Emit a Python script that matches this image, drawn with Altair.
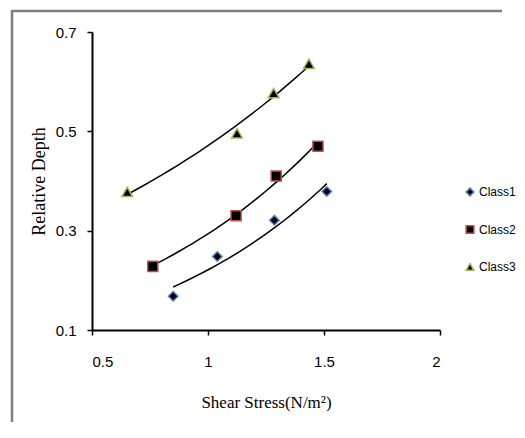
import altair as alt
import pandas as pd

classes = ["Class1", "Class2", "Class3"]
class1_x = [0.85, 1.04, 1.286, 1.512]
class1_y = [0.168, 0.248, 0.321, 0.379]
class2_x = [0.762, 1.121, 1.294, 1.474]
class2_y = [0.228, 0.33, 0.41, 0.47]
class3_x = [0.652, 1.125, 1.283, 1.435]
class3_y = [0.378, 0.496, 0.577, 0.636]
x_ticks = [0.5, 1, 1.5, 2]
y_ticks = [0.1, 0.3, 0.5, 0.7]
outline_colors = ["#4F81BD", "#C0504D", "#9BBB59"]
shapes = ["diamond", "square", "triangle-up"]
sizes = [90, 115, 130]

rows = []
for c, xs, ys in zip(classes, [class1_x, class2_x, class3_x], [class1_y, class2_y, class3_y]):
    for a, b in zip(xs, ys):
        rows.append({"cls": c, "cls_size": c, "x": a, "y": b})
df = pd.DataFrame(rows)
legend_df = pd.DataFrame({"cls": classes})

sans = "Liberation Sans, Arial, sans-serif"
serif = "Liberation Serif, Times New Roman, serif"

xscale = alt.Scale(domain=[0.5, 2], nice=False, zero=False)
yscale = alt.Scale(domain=[0.1, 0.7], nice=False, zero=False)

xenc = alt.X("x:Q", scale=xscale,
             axis=alt.Axis(values=x_ticks, title="Shear Stress(N/m²)", grid=False,
                           domainColor="black", domainWidth=2, tickColor="black",
                           tickWidth=1.5, tickSize=5, labelPadding=19, labelFont=sans,
                           labelFontSize=15, labelColor="black", titleFont=serif,
                           titleFontSize=17, titleFontWeight="normal", titleColor="black",
                           titlePadding=25, format="~g"))
yenc = alt.Y("y:Q", scale=yscale,
             axis=alt.Axis(values=y_ticks, title="Relative Depth", grid=False,
                           domainColor="black", domainWidth=2, tickColor="black",
                           tickWidth=1.5, tickSize=5, labelPadding=11, labelFont=sans,
                           labelFontSize=15, labelColor="black", titleFont=serif,
                           titleFontSize=18, titleFontWeight="normal", titleColor="black",
                           titlePadding=7, format="~g"))
yenc_noaxis = alt.Y("y:Q", scale=yscale, axis=None)

shape_enc = alt.Shape("cls:N", scale=alt.Scale(domain=classes, range=shapes), legend=None)
stroke_enc = alt.Stroke("cls:N", scale=alt.Scale(domain=classes, range=outline_colors), legend=None)

base = alt.Chart(df)

lines = base.transform_regression("x", "y", method="exp", groupby=["cls"]).mark_line(
    color="black", strokeWidth=1.5
).encode(x=xenc, y=yenc_noaxis, detail="cls:N")

points = base.mark_point(filled=True, fill="black", strokeWidth=1.5, opacity=1).encode(
    x=xenc, y=yenc, shape=shape_enc, stroke=stroke_enc,
    size=alt.Size("cls_size:N", scale=alt.Scale(domain=classes, range=sizes), legend=None),
)

leg_y = alt.Y("cls:N", scale=alt.Scale(domain=classes, range=[160, 235], padding=0), axis=None)
leg_points = alt.Chart(legend_df).mark_point(
    filled=True, fill="black", strokeWidth=1.5, opacity=1, size=60
).encode(x=alt.value(378), y=leg_y, shape=shape_enc, stroke=stroke_enc)
leg_text = alt.Chart(legend_df).mark_text(
    align="left", baseline="middle", dx=9, font=sans, fontSize=12, color="black"
).encode(x=alt.value(378), y=leg_y, text="cls:N")

frame_data = alt.Data(values=[{"f": 1}])
frame_top = alt.Chart(frame_data).mark_rule(color="#7f7f7f", strokeWidth=2.5).encode(
    x=alt.value(-80), x2=alt.value(410), y=alt.value(-21))
frame_left = alt.Chart(frame_data).mark_rule(color="#7f7f7f", strokeWidth=2.5).encode(
    x=alt.value(-80), y=alt.value(-22), y2=alt.value(390))

chart = alt.layer(frame_top, frame_left, lines, points, leg_points, leg_text).resolve_scale(
    y="independent"
).properties(
    width=348, height=298,
    padding={"left": 2, "top": 0, "right": 0, "bottom": 0},
).configure(background="white").configure_view(stroke=None)

chart.save("out.html", embed_options={"renderer": "svg", "actions": False})
